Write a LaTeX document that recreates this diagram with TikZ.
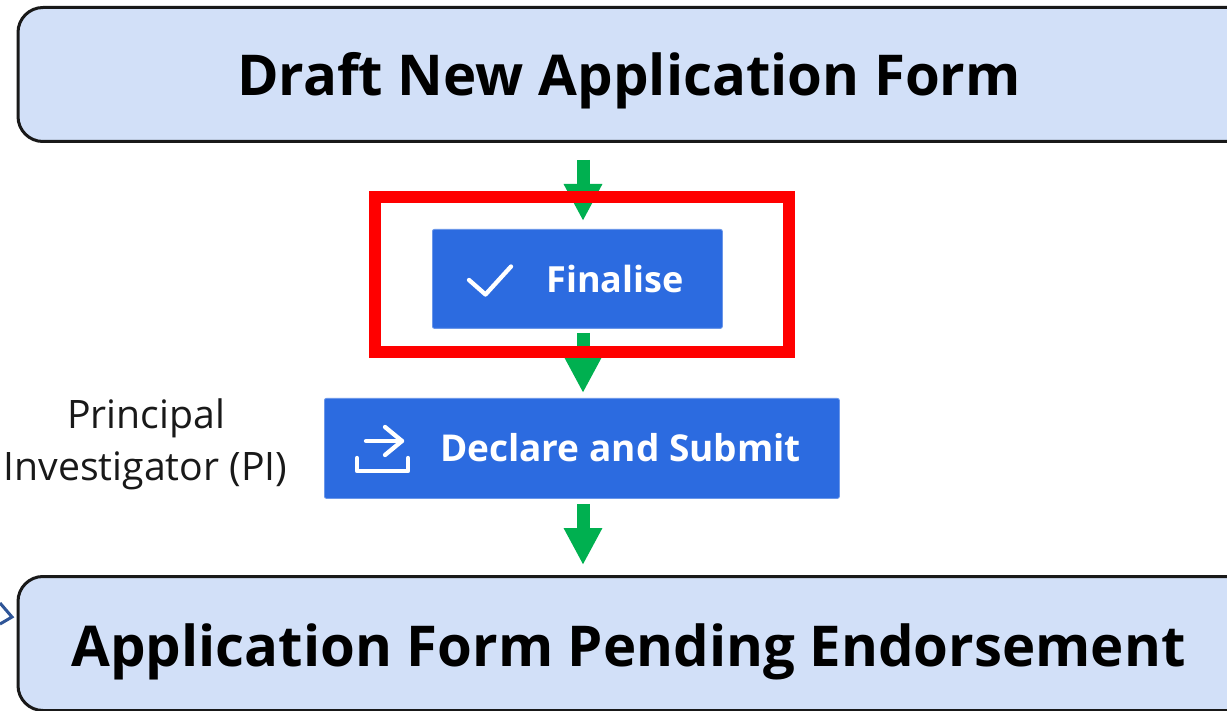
\documentclass[tikz,border=0pt]{standalone}
\usepackage{fontspec}
\setmainfont{Open Sans}
\usetikzlibrary{arrows.meta}
\definecolor{paleblue}{RGB}{210,224,248}
\definecolor{btnblue}{RGB}{44,107,224}
\definecolor{arrowgreen}{RGB}{0,176,80}
\definecolor{stubblue}{RGB}{47,85,151}
\tikzset{
  x=1pt,y=-1pt,
  titlebox/.style={draw=black!90,line width=3pt,fill=paleblue,rounded corners=25pt,minimum height=134pt,inner sep=0pt,anchor=north west},
  titletext/.style={font=\fontsize{56.3}{60}\selectfont\bfseries,inner sep=0pt},
  btn/.style={fill=btnblue,draw=btnblue!70!white,line width=0.8pt,rounded corners=2pt,inner sep=0pt,anchor=north west},
  btntext/.style={text=white,font=\fontsize{37}{40}\selectfont\bfseries,inner sep=0pt},
  flow/.style={draw=arrowgreen,line width=13pt,-{Triangle[length=37pt,width=36pt]}},
  icon/.style={draw=white,line width=4.3pt,line cap=round,line join=round},
  sidetext/.style={font=\fontsize{39.2}{40}\selectfont,inner sep=0pt,text=black!90},
}
\begin{document}
\begin{tikzpicture}
\useasboundingbox (0,0) rectangle (1227,711);
\clip (0,0) rectangle (1227,711);
\fill[white] (0,0) rectangle (1227,711);
\coordinate (ax) at (583,0);
% top and bottom boxes
\node[titlebox,minimum width=1260pt] (draft) at (16.5,6) {};
\node[titletext] (draftlabel) at (629,81) {Draft New Application Form};
\node[titlebox,minimum width=1260pt] (pending) at (16.5,575) {};
\node[titletext] (pendinglabel) at (628.5,652) {Application Form Pending Endorsement};
% buttons
\node[btn,minimum width=290pt,minimum height=99pt] (finalise) at (432,229) {};
\node[btn,minimum width=515pt,minimum height=100pt] (submit) at (324,398) {};
\node[btntext,font=\fontsize{36}{40}\selectfont\bfseries] (finlabel) at (615,279) {Finalise};
\node[btntext] (sublabel) at (620.5,448) {Declare and Submit};
% arrows
\draw[flow,shorten <=17pt,shorten >=8pt] (ax |- draft.south) -- (ax |- finalise.north);
\draw[flow,shorten <=4pt,shorten >=5pt] (ax |- finalise.south) -- (ax |- submit.north);
\draw[flow,shorten <=5pt,shorten >=10pt] (ax |- submit.south) -- (ax |- pending.north);
% red highlight
\node[draw=red,line width=12pt,minimum width=414pt,minimum height=155pt,inner sep=0pt,outer sep=0pt,anchor=north west] (highlight) at (375,197) {};
% icons
\draw[icon] (469,280) -- (485.5,294.5) -- (511,266.5);
\draw[icon] (357,458) -- (357,471) -- (408,471) -- (408,458);
\draw[icon] (366,441) -- (402,441);
\draw[icon] (385,427) -- (402,441) -- (385,455);
% side label
\node[sidetext] (pi1) at (146,418) {Principal};
\node[sidetext] (pi2) at (145.5,471) {Investigator (PI)};
% cropped incoming arrow
\coordinate (stubA) at (0,603);
\coordinate (stubB) at (12,617);
\coordinate (stubC) at (0,624);
\draw[stubblue,line width=3pt] (stubA) -- (stubB) -- (stubC);
\end{tikzpicture}
\end{document}
